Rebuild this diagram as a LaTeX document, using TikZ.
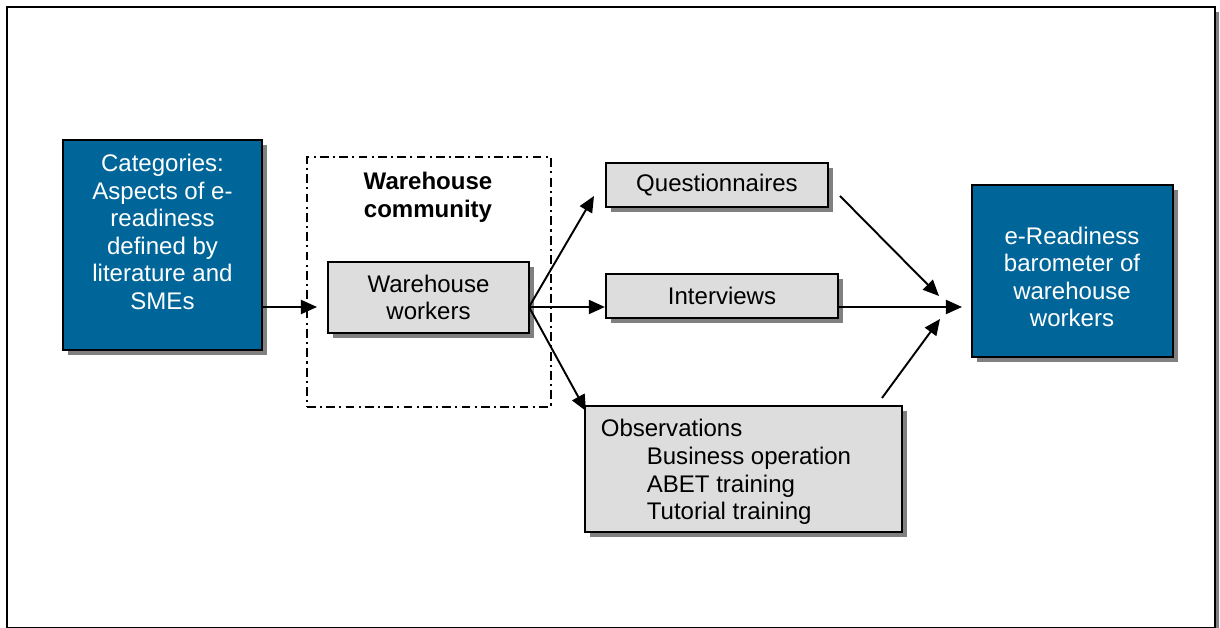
\documentclass[tikz,border=0pt]{standalone}
\usepackage{fontspec}
\setmainfont{Liberation Sans}
\usetikzlibrary{arrows.meta,shadows}

\definecolor{barblue}{RGB}{0,102,153}
\definecolor{boxgray}{RGB}{221,221,221}
\newcommand{\figfont}{\fontsize{6.83}{7.85}\selectfont}

\tikzset{
	boxshadow/.style={drop shadow={shadow xshift=0.05cm, shadow yshift=-0.05cm, fill=black!50, opacity=1}},
	bluebox/.style={draw=black, line width=0.6pt, fill=barblue, boxshadow},
	graybox/.style={draw=black, line width=0.6pt, fill=boxgray, boxshadow, inner sep=0pt, align=center, font=\figfont},
	commbox/.style={draw=black, line width=0.6pt, dash pattern=on 2.5pt off 1.2pt on 0.6pt off 1.2pt},
	boxtext/.style={inner sep=0pt, align=center, font=\figfont},
	arr/.style={-{Triangle[length=0.16cm,width=0.14cm]}, line width=0.55pt}
}

\begin{document}
\begin{tikzpicture}[x=0.01cm,y=-0.01cm]
			\useasboundingbox (0,0) rectangle (1220,628);
			
			% frame
			\fill[black!50] (11,12) rectangle (1219,640);
			\draw[line width=0.7pt,fill=white] (7,7) rectangle (1215,628.5);
			
			\node[bluebox, minimum width=1.99cm, minimum height=2.10cm] (cat) at (162.5,245) {};
			\node[boxtext, text=white] (cattext) at (162.5,232) {Categories:\\Aspects of e-\\readiness\\defined by\\literature and\\SMEs};
			
			\node[commbox, minimum width=2.44cm, minimum height=2.49cm] (community) at (429,282) {};
			\node[boxtext, font=\figfont\bfseries] (commtitle) at (428,197) {Warehouse\\community};
			\node[graybox, minimum width=2.00cm, minimum height=0.71cm] (workers) at (428.5,297.5) {Warehouse\\workers};
			
			\node[graybox, minimum width=2.22cm, minimum height=0.44cm] (quest) at (717,185) {Questionnaires};
			\node[graybox, minimum width=2.32cm, minimum height=0.44cm] (interv) at (722,296) {Interviews};
			\node[graybox, minimum width=3.17cm, minimum height=1.26cm] (obs) at (743.5,469) {};
			\node[boxtext, align=left] (obstext) at (726,472) {Observations\\\hspace*{0.46cm}Business operation\\\hspace*{0.46cm}ABET training\\\hspace*{0.46cm}Tutorial training};
			
			\node[bluebox, minimum width=2.01cm, minimum height=1.72cm] (ready) at (1072.5,271) {};
			\node[boxtext, text=white] (readytext) at (1072,277) {e-Readiness\\barometer of\\warehouse\\workers};
			
			% arrow ends
			\coordinate (fan) at (529,307);
			\coordinate (workin) at (317,307);
			\coordinate (qin) at (594,196);
			\coordinate (obsin) at (586,411);
			\coordinate (qout) at (840,196);
			\coordinate (qend) at (939,296);
			\coordinate (iend) at (962,307);
			\coordinate (oout) at (882,398);
			\coordinate (oend) at (940,319);
			
			\draw[arr] (cat.east |- fan) -- (workin);
			\draw[arr] (fan) -- (qin);
			\draw[arr] (fan) -- (interv.west |- fan);
			\draw[arr] (fan) -- (obsin);
			\draw[arr] (qout) -- (qend);
			\draw[arr] (interv.east |- fan) -- (iend);
			\draw[arr] (oout) -- (oend);
\end{tikzpicture}
\end{document}
